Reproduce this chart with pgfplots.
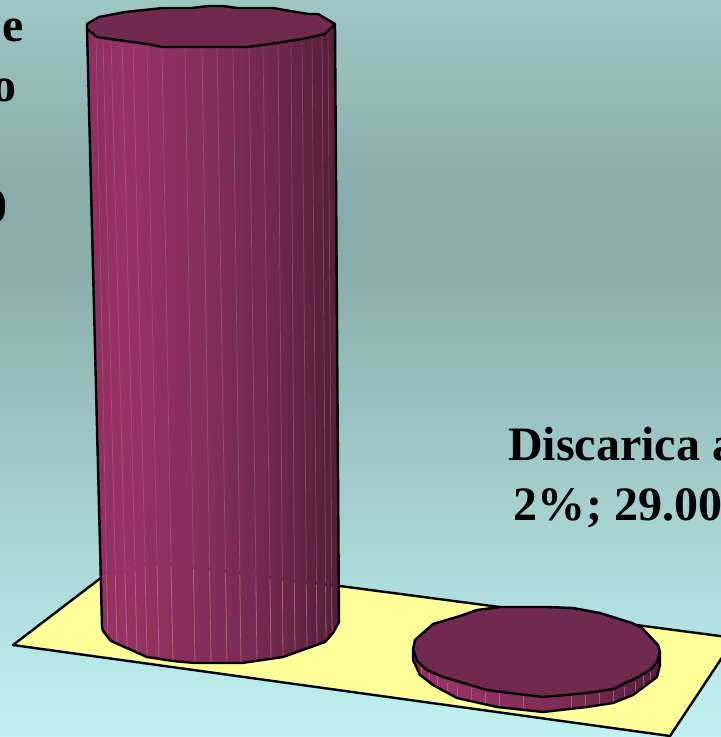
\documentclass[border=0pt]{standalone}
\usepackage{fontspec}
\setmainfont{Liberation Serif}
\usepackage{pgfplots}
\pgfplotsset{compat=1.18}

\definecolor{bgtop}{RGB}{158,198,198}
\definecolor{bgmid}{RGB}{136,170,170}
\definecolor{bgupp}{RGB}{140,175,175}
\definecolor{bglow}{RGB}{139,174,174}
\definecolor{bgbot}{RGB}{192,242,242}
\definecolor{floorc}{RGB}{255,255,153}
\definecolor{capc}{RGB}{112,42,80}
\definecolor{sepc}{RGB}{178,115,150}
\definecolor{sepd}{RGB}{190,125,115}
\definecolor{cyla}{RGB}{140,47,96}
\definecolor{cylb}{RGB}{151,51,102}
\definecolor{cylc}{RGB}{131,45,89}
\definecolor{cyld}{RGB}{112,40,78}
\definecolor{cyle}{RGB}{84,29,59}
% the path's box takes the middle of the shading, 25bp to 75bp
\pgfdeclarehorizontalshading{cyl}{100bp}{
  color(0bp)=(cyla); color(25bp)=(cyla); color(32bp)=(cylb); color(50bp)=(cylc);
  color(62bp)=(cyld); color(75bp)=(cyle); color(100bp)=(cyle)}
\pgfdeclareverticalshading{bgshade}{100bp}{
  color(0bp)=(bgbot); color(25bp)=(bgbot); color(56bp)=(bglow); color(60bp)=(bgmid);
  color(64bp)=(bgupp); color(75bp)=(bgtop); color(100bp)=(bgtop)}

\begin{document}
\begin{tikzpicture}
\begin{axis}[
  scale only axis,
  width=721bp,
  height=737bp,
  xmin=0, xmax=721,
  ymin=0, ymax=737,
  y dir=reverse,
  axis line style={draw=none},
  ticks=none,
  unbounded coords=jump,
]
% background
\addplot[draw=none, shading=bgshade]
  coordinates {(0,0) (721,0) (721,737) (0,737)} -- cycle;

% floor
\addplot[fill=floorc, draw=black, line width=2.4bp, line join=round]
  coordinates {(13,645) (127,558) (735,638) (670,736)} -- cycle;

% tall cylinder
\addplot[draw=none, shading=cyl]
  coordinates {(87,29) (97,37) (110,39) (147,44) (162,47) (248,47) (277,43) (302,39) (325,34) (335,24)
  (339,622) (333,633) (325,642) (283,657) (242,663) (195,663) (173,661) (147,657) (120,645) (111,641) (103,631) (102,627)} -- cycle;
% facet lines, upper part
\addplot[sepc, line width=.7bp, opacity=.45] coordinates {
  (96,38) (106.6,571) (nan,nan)
  (103,39) (115.3,570) (nan,nan)
  (111,40) (125,569) (nan,nan)
  (122,41) (135,566) (nan,nan)
  (133,43) (145,563) (nan,nan)
  (147,44) (157,561) (nan,nan)
  (162,47) (171,562) (nan,nan)
  (185,47) (193.4,565) (nan,nan)
  (202,47) (209.6,567) (nan,nan)
  (217,47) (225.5,569) (nan,nan)
  (233,47) (239.8,571) (nan,nan)
  (249,47) (255.9,573) (nan,nan)
  (263,45) (270,575) (nan,nan)
  (278,43) (282.4,577) (nan,nan)
  (291,41) (294.4,579) (nan,nan)
  (302,39) (306.3,580) (nan,nan)
  (312,37) (316.5,581) (nan,nan)
  (322,35) (325.6,582) (nan,nan)
  (328,30) (331.7,583)
};
% facet lines below the back edge of the floor
\addplot[sepd, line width=.8bp, opacity=.7] coordinates {
  (106.6,575) (108,642) (nan,nan)
  (115.3,574) (117,644) (nan,nan)
  (125,573) (127,648) (nan,nan)
  (135,570) (137,653) (nan,nan)
  (145,567) (147,657) (nan,nan)
  (157,565) (159,659) (nan,nan)
  (171,566) (173,661) (nan,nan)
  (193.4,569) (195,663) (nan,nan)
  (209.6,571) (211,663) (nan,nan)
  (225.5,573) (227,663) (nan,nan)
  (239.8,575) (241,663) (nan,nan)
  (255.9,577) (257,662) (nan,nan)
  (270,579) (271,660) (nan,nan)
  (282.4,581) (283,657) (nan,nan)
  (294.4,583) (295,653) (nan,nan)
  (306.3,584) (307,649) (nan,nan)
  (316.5,585) (317,645) (nan,nan)
  (325.6,586) (326,641) (nan,nan)
  (331.7,587) (332,634)
};
% outline of the body
\addplot[black, line width=2.4bp, line join=round] coordinates {(87,29) (102,627) (103,631) (111,641) (120,645) (147,657) (173,661) (195,663) (242,663) (283,657) (325,642) (333,633) (339,622) (335,24)};
% top of the cylinder
\addplot[fill=capc, draw=black, line width=2.4bp, line join=round]
  coordinates {(87,24) (99,17) (125,12) (163,8) (192,8) (208,6) (223,6) (237,8) (273,8) (308,14) (318,14) (335,24)
  (325,34) (302,39) (277,43) (248,47) (162,47) (147,44) (110,39) (97,37) (87,29)} -- cycle;

% flat disc
\addplot[draw=none, shading=cyl]
  coordinates {(413,649) (413,660) (420,675) (433,685) (457,698) (497,707) (543,712) (587,707) (613,703) (633,695) (657,677) (660,665) (660,652)} -- cycle;
\addplot[sepc, line width=.7bp, opacity=.7] coordinates {
  (421.7,666) (421.7,676.7) (nan,nan)
  (429.3,671.7) (429.3,683.3) (nan,nan)
  (437.3,676) (437.3,687.3) (nan,nan)
  (447.3,682.7) (447.3,693.3) (nan,nan)
  (457.3,686.7) (457.3,698.3) (nan,nan)
  (471,687.7) (471,701.7) (nan,nan)
  (485.7,691.7) (485.7,705) (nan,nan)
  (499.3,693.3) (499.3,706.7) (nan,nan)
  (523.3,696) (523.3,710) (nan,nan)
  (571,696) (571,709.3) (nan,nan)
  (585.3,695) (585.3,707.3) (nan,nan)
  (599.3,693.3) (599.3,705) (nan,nan)
  (613.3,690.7) (613.3,701.7) (nan,nan)
  (624,686.7) (624,698.3) (nan,nan)
  (635,681.7) (635,692.7) (nan,nan)
  (643.3,675) (643.3,686.7) (nan,nan)
  (650.7,670) (650.7,680.7)
};
\addplot[black, line width=2.4bp, line join=round]
  coordinates {(413,649) (413,660) (420,675) (433,685) (457,698) (497,707) (543,712) (587,707) (613,703) (633,695) (657,677) (660,665) (660,652)};
\addplot[fill=capc, draw=black, line width=2.4bp, line join=round]
  coordinates {(413,649) (415,640) (433,624) (460,616) (477,610) (500,607) (547,607) (573,608) (600,613) (632,623) (642,628) (658,645) (660,652)
  (657,662) (650,670) (638,677) (613,689) (587,693) (543,697) (510,693) (487,690) (457,681) (443,677) (427,670) (417,661)} -- cycle;

% labels, cut by the edge of the picture as in the reference
\tikzset{lab/.style={overlay, font=\fontsize{48bp}{50bp}\bfseries\selectfont, inner sep=0pt}}
\node[lab, anchor=base east] at (axis cs:24.5,41.5) {e};
\node[lab, anchor=base east] at (axis cs:17,102) {o};
\node[lab, anchor=base east] at (axis cs:8,222) {0};
\node[lab, anchor=base west] at (axis cs:508,460) {Discarica a};
\node[lab, anchor=base west] at (axis cs:513,520) {2\%\kern1bp; 29.00};
\end{axis}
\end{tikzpicture}
\end{document}
